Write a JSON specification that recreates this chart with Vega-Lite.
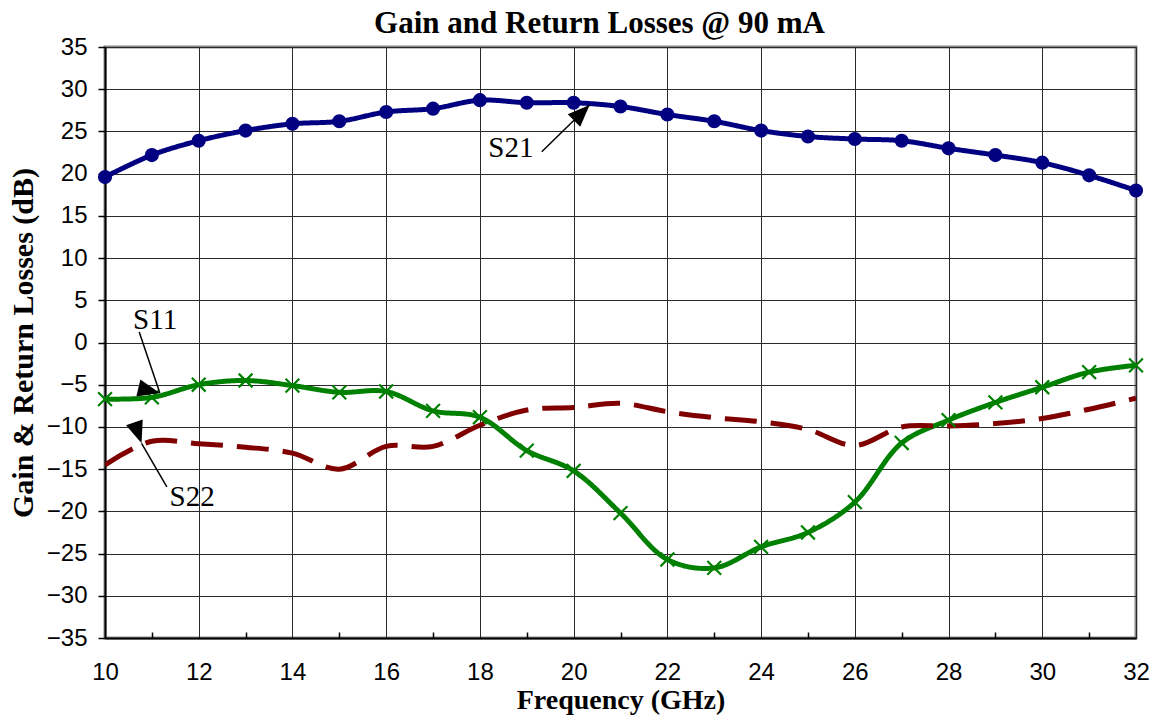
{
  "$schema": "https://vega.github.io/schema/vega-lite/v6.json",
  "width": 1031,
  "height": 591,
  "autosize": {"type": "none"},
  "padding": {"left": 105, "top": 47, "right": 20, "bottom": 84},
  "background": "white",
  "title": {
    "text": "Gain and Return Losses @ 90 mA",
    "font": "Liberation Serif",
    "fontSize": 31,
    "fontWeight": "bold",
    "color": "black",
    "anchor": "middle",
    "offset": 12,
    "dx": -21,
    "dy": 17
  },
  "config": {
    "view": {"stroke": "#888888", "strokeWidth": 3},
    "axis": {
      "labelFont": "Liberation Sans",
      "labelFontSize": 24,
      "labelColor": "black",
      "titleFont": "Liberation Serif",
      "titleFontWeight": "bold",
      "titleColor": "black",
      "domainColor": "black",
      "domainWidth": 2,
      "tickColor": "black",
      "tickWidth": 1.5,
      "gridColor": "#2a2a2a",
      "gridWidth": 1,
      "gridOpacity": 1
    }
  },
  "datasets": {
    "series": [
      {"f": 10, "v": 19.6, "s": "S21"}, {"f": 11, "v": 22.2, "s": "S21"}, {"f": 12, "v": 23.9, "s": "S21"},
      {"f": 13, "v": 25.1, "s": "S21"}, {"f": 14, "v": 25.9, "s": "S21"}, {"f": 15, "v": 26.2, "s": "S21"},
      {"f": 16, "v": 27.3, "s": "S21"}, {"f": 17, "v": 27.7, "s": "S21"}, {"f": 18, "v": 28.7, "s": "S21"},
      {"f": 19, "v": 28.4, "s": "S21"}, {"f": 20, "v": 28.4, "s": "S21"}, {"f": 21, "v": 27.95, "s": "S21"},
      {"f": 22, "v": 27.0, "s": "S21"}, {"f": 23, "v": 26.2, "s": "S21"}, {"f": 24, "v": 25.1, "s": "S21"},
      {"f": 25, "v": 24.4, "s": "S21"}, {"f": 26, "v": 24.1, "s": "S21"}, {"f": 27, "v": 23.9, "s": "S21"},
      {"f": 28, "v": 23.0, "s": "S21"}, {"f": 29, "v": 22.2, "s": "S21"}, {"f": 30, "v": 21.3, "s": "S21"},
      {"f": 31, "v": 19.8, "s": "S21"}, {"f": 32, "v": 18.0, "s": "S21"},
      {"f": 10, "v": -6.7, "s": "S11"}, {"f": 11, "v": -6.5, "s": "S11"}, {"f": 12, "v": -5.0, "s": "S11"},
      {"f": 13, "v": -4.5, "s": "S11"}, {"f": 14, "v": -5.1, "s": "S11"}, {"f": 15, "v": -5.9, "s": "S11"},
      {"f": 16, "v": -5.8, "s": "S11"}, {"f": 17, "v": -8.1, "s": "S11"}, {"f": 18, "v": -8.85, "s": "S11"},
      {"f": 19, "v": -12.8, "s": "S11"}, {"f": 20, "v": -15.2, "s": "S11"}, {"f": 21, "v": -20.2, "s": "S11"},
      {"f": 22, "v": -25.7, "s": "S11"}, {"f": 23, "v": -26.7, "s": "S11"}, {"f": 24, "v": -24.2, "s": "S11"},
      {"f": 25, "v": -22.5, "s": "S11"}, {"f": 26, "v": -18.9, "s": "S11"}, {"f": 27, "v": -11.9, "s": "S11"},
      {"f": 28, "v": -9.2, "s": "S11"}, {"f": 29, "v": -7.1, "s": "S11"}, {"f": 30, "v": -5.3, "s": "S11"},
      {"f": 31, "v": -3.5, "s": "S11"}, {"f": 32, "v": -2.7, "s": "S11"},
      {"f": 10, "v": -14.5, "s": "S22"}, {"f": 11, "v": -11.7, "s": "S22"}, {"f": 12, "v": -12.0, "s": "S22"},
      {"f": 13, "v": -12.4, "s": "S22"}, {"f": 14, "v": -13.1, "s": "S22"}, {"f": 15, "v": -15.0, "s": "S22"},
      {"f": 16, "v": -12.3, "s": "S22"}, {"f": 17, "v": -12.3, "s": "S22"}, {"f": 18, "v": -9.8, "s": "S22"},
      {"f": 19, "v": -8.0, "s": "S22"}, {"f": 20, "v": -7.7, "s": "S22"}, {"f": 21, "v": -7.2, "s": "S22"},
      {"f": 22, "v": -8.2, "s": "S22"}, {"f": 23, "v": -8.9, "s": "S22"}, {"f": 24, "v": -9.4, "s": "S22"},
      {"f": 25, "v": -10.3, "s": "S22"}, {"f": 26, "v": -12.2, "s": "S22"}, {"f": 27, "v": -10.0, "s": "S22"},
      {"f": 28, "v": -9.9, "s": "S22"}, {"f": 29, "v": -9.6, "s": "S22"}, {"f": 30, "v": -9.0, "s": "S22"},
      {"f": 31, "v": -7.9, "s": "S22"}, {"f": 32, "v": -6.6, "s": "S22"}
    ],
    "notes": [
      {"name": "S21", "tx": 18.66, "ty": 23.0, "x1": 19.32, "y1": 22.6, "x2": 20.34, "y2": 28.14},
      {"name": "S11", "tx": 11.07, "ty": 2.7, "x1": 10.73, "y1": 1.25, "x2": 11.17, "y2": -5.98},
      {"name": "S22", "tx": 11.86, "ty": -18.3, "x1": 11.32, "y1": -17.1, "x2": 10.78, "y2": -11.94}
    ]
  },
  "layer": [
    {
      "data": {"name": "series"},
      "mark": {"type": "line", "interpolate": "catmull-rom", "strokeWidth": 5, "clip": true},
      "encoding": {
        "x": {
          "field": "f", "type": "quantitative",
          "scale": {"domain": [10, 32], "nice": false, "zero": false},
          "axis": {
            "title": "Frequency (GHz)",
            "titleFontSize": 28,
            "titlePadding": 2,
            "values": [10,11,12,13,14,15,16,17,18,19,20,21,22,23,24,25,26,27,28,29,30,31,32],
            "labelExpr": "datum.value % 2 === 0 ? datum.label : ''",
            "labelPadding": 28,
            "labelFlush": false,
            "labelOverlap": false,
            "tickSize": -6,
            "tickOpacity": {"condition": {"test": "datum.value % 2 === 0", "value": 0}, "value": 1},
            "gridOpacity": {"condition": {"test": "datum.value % 2 !== 0", "value": 0}, "value": 1}
          }
        },
        "y": {
          "field": "v", "type": "quantitative",
          "scale": {"domain": [-35, 35], "nice": false, "zero": false},
          "axis": {
            "title": "Gain & Return Losses (dB)",
            "titleFontSize": 30,
            "titlePadding": 8,
            "values": [-35,-30,-25,-20,-15,-10,-5,0,5,10,15,20,25,30,35],
            "tickSize": 7,
            "labelPadding": 11,
            "labelFlush": false,
            "labelOverlap": false
          }
        },
        "detail": {"field": "s"},
        "color": {
          "field": "s", "type": "nominal",
          "scale": {"domain": ["S21", "S11", "S22"], "range": ["#000080", "#008000", "#800000"]},
          "legend": null
        },
        "strokeDash": {
          "field": "s", "type": "nominal",
          "scale": {"domain": ["S21", "S11", "S22"], "range": [[1, 0], [1, 0], [32, 14]]},
          "legend": null
        }
      }
    },
    {
      "data": {"name": "series"},
      "transform": [{"filter": "datum.s === 'S21'"}],
      "mark": {"type": "point", "shape": "circle", "filled": true, "opacity": 1, "size": 200, "color": "#000080"},
      "encoding": {
        "x": {"field": "f", "type": "quantitative"},
        "y": {"field": "v", "type": "quantitative"}
      }
    },
    {
      "data": {"name": "series"},
      "transform": [{"filter": "datum.s === 'S11'"}],
      "mark": {"type": "point", "shape": "M-1,-1L1,1M-1,1L1,-1", "filled": false, "opacity": 1, "size": 190, "strokeWidth": 2.2, "color": "#008000"},
      "encoding": {
        "x": {"field": "f", "type": "quantitative"},
        "y": {"field": "v", "type": "quantitative"}
      }
    },
    {
      "data": {"name": "notes"},
      "mark": {"type": "rule", "color": "black", "strokeWidth": 1.5},
      "encoding": {
        "x": {"field": "x1", "type": "quantitative"},
        "y": {"field": "y1", "type": "quantitative"},
        "x2": {"field": "x2"},
        "y2": {"field": "y2"}
      }
    },
    {
      "data": {"name": "notes"},
      "mark": {"type": "point", "shape": "M0,0L0.72,1.8L-0.72,1.8Z", "filled": true, "opacity": 1, "size": 600, "color": "black"},
      "encoding": {
        "x": {"field": "x2", "type": "quantitative"},
        "y": {"field": "y2", "type": "quantitative"},
        "angle": {
          "field": "name", "type": "nominal",
          "scale": {"domain": ["S21", "S11", "S22"], "range": [45, 161, 330]},
          "legend": null
        }
      }
    },
    {
      "data": {"name": "notes"},
      "mark": {"type": "text", "font": "Liberation Serif", "fontSize": 29, "color": "black", "align": "center", "baseline": "middle"},
      "encoding": {
        "x": {"field": "tx", "type": "quantitative"},
        "y": {"field": "ty", "type": "quantitative"},
        "text": {"field": "name"}
      }
    }
  ]
}
